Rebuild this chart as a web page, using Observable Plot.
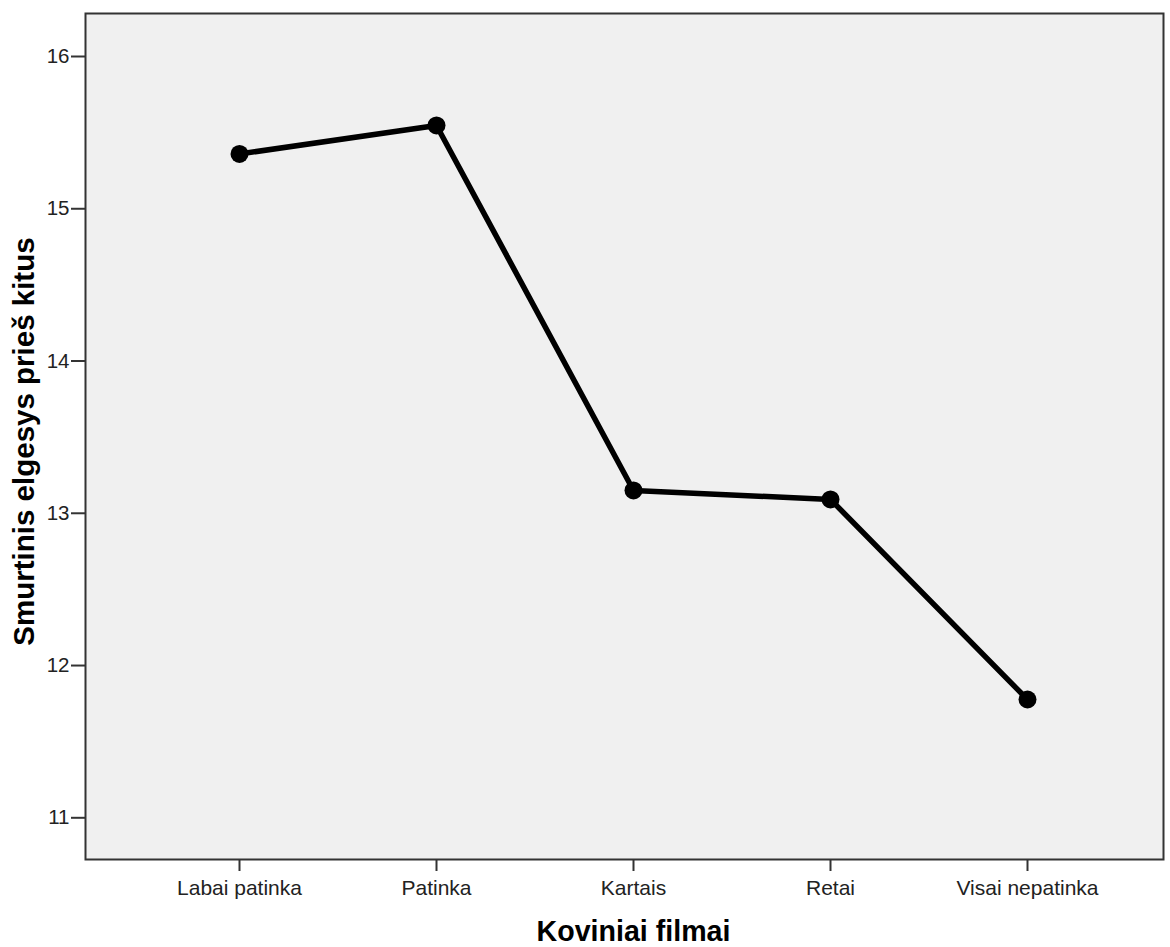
<!DOCTYPE html>
<html>
<head>
<meta charset="utf-8">
<script src="https://cdn.jsdelivr.net/npm/d3@7"></script>
<script src="https://cdn.jsdelivr.net/npm/@observablehq/plot@0.6"></script>
<style>
  html, body { margin: 0; padding: 0; background: #fff; }
  #chart svg { display: block; }
</style>
</head>
<body>
<div id="chart"></div>
<script>
const categories = ["Labai patinka", "Patinka", "Kartais", "Retai", "Visai nepatinka"];
const means = [15.36, 15.547, 13.15, 13.091, 11.777];
const yTicks = [11, 12, 13, 14, 15, 16];
const xTitle = "Koviniai filmai";
const yTitle = "Smurtinis elgesys prieš kitus";

const data = categories.map((c, i) => ({category: c, value: means[i]}));

const chart = Plot.plot({
  width: 1170,
  height: 947,
  marginTop: 13,
  marginBottom: 88,
  marginLeft: 85,
  marginRight: 7,
  insetLeft: 153,
  insetRight: 136,
  style: {fontFamily: "'Liberation Sans', Arial, sans-serif", background: "#fff"},
  x: {type: "point", domain: categories, padding: 0, label: null},
  y: {domain: [10.7261, 16.2824], label: null},
  marks: [
    Plot.frame({fill: "#f0f0f0", stroke: "none"}),
    Plot.axisY({ticks: yTicks, tickFormat: d3.format("d"), tickSize: 14, tickPadding: 2, fontSize: 20.5, stroke: "#333", strokeWidth: 2, color: "#222", label: null}),
    Plot.axisX({tickSize: 12, tickPadding: 9, fontSize: 21, stroke: "#333", strokeWidth: 2, color: "#222", label: null}),
    Plot.frame({stroke: "#333", strokeWidth: 2}),
    Plot.line(data, {x: "category", y: "value", stroke: "#000", strokeWidth: 5.5}),
    Plot.dot(data, {x: "category", y: "value", r: 9, fill: "#000", stroke: "none"}),
    Plot.text([xTitle], {text: d => d, frameAnchor: "bottom", dx: 9, dy: 72, textAnchor: "middle", lineAnchor: "middle", fontSize: 28.6, fontWeight: "bold", fill: "#000"}),
    Plot.text([yTitle], {text: d => d, frameAnchor: "left", dx: -61, dy: 5, rotate: -90, textAnchor: "middle", lineAnchor: "middle", fontSize: 29.5, fontWeight: "bold", fill: "#000"})
  ]
});
document.getElementById("chart").appendChild(chart);
</script>
</body>
</html>
